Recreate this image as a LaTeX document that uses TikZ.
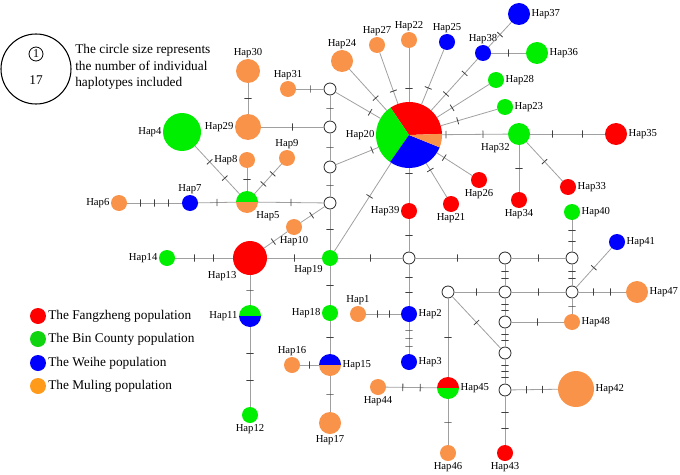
\documentclass[tikz,border=0pt]{standalone}
\usepackage{fontspec}
\setmainfont{Liberation Serif}
\definecolor{fz}{HTML}{FF0000}
\definecolor{bc}{HTML}{00EE00}
\definecolor{wh}{HTML}{0000FF}
\definecolor{ml}{HTML}{F9934A}
\definecolor{lgreen}{HTML}{11D411}
\definecolor{lorange}{HTML}{FF9A1A}
\definecolor{linkgray}{HTML}{A0A0A0}
\newcommand\lnk[3]{\draw[link] (#1) -- (#2) foreach \p in {#3}{node[tk,pos=\p]{}};}
\newcommand\halfnode[7]{%
  \node[hap=#4,label={[lab]#7}] (#1) at (#2,-#3) {};
  \fill[#5] (#1.center) ++(#4,0) arc[start angle=0,end angle=180,radius=#4] -- cycle;
  \fill[#6] (#1.center) ++(-#4,0) arc[start angle=180,end angle=360,radius=#4] -- cycle;}
\begin{document}
\begin{tikzpicture}[x=0.75pt,y=0.75pt,
  hap/.style={circle,inner sep=0pt,outer sep=0pt,minimum size=#1*1.5pt},
  fzn/.style={hap=#1,fill=fz},
  bcn/.style={hap=#1,fill=bc},
  whn/.style={hap=#1,fill=wh},
  mln/.style={hap=#1,fill=ml},
  med/.style={circle,draw=black!85,fill=white,line width=0.6pt,inner sep=0pt,outer sep=0pt,minimum size=9pt},
  lab/.style={font=\fontsize{8}{9}\selectfont,inner sep=1pt},
  link/.style={draw=linkgray,line width=0.6pt},
  tk/.style={rectangle,draw=black!75,line width=0.6pt,inner sep=0pt,outer sep=0pt,minimum width=0pt,minimum height=5.5pt,sloped},
  legtext/.style={font=\fontsize{10}{12.4}\selectfont,inner sep=0pt}]
\useasboundingbox (0,0) rectangle (680,-474);

% size legend
\node[circle,draw=black,line width=0.8pt,minimum size=52.5pt,inner sep=0pt] (bigc) at (36,-69) {};
\node[circle,draw=black,line width=0.6pt,minimum size=10.5pt,inner sep=0pt,font=\fontsize{9}{9}\selectfont] (smc) at (36,-54) {1};
\node[legtext] (n17) at (36,-80) {17};
\node[legtext,anchor=west,align=left] (legtxt) at (75,-67) {The circle size represents\\the number of individual\\haplotypes included};

% population legend
\node[hap=8,fill=fz] (lg1) at (38,-316) {};
\node[hap=8,fill=lgreen] (lg2) at (38,-339) {};
\node[hap=8,fill=wh] (lg3) at (38,-363) {};
\node[hap=8,fill=lorange] (lg4) at (38,-386) {};
\node[legtext,anchor=west] (lt1) at (48,-316) {The Fangzheng population};
\node[legtext,anchor=west] (lt2) at (48,-339) {The Bin County population};
\node[legtext,anchor=west] (lt3) at (48,-363) {The Weihe population};
\node[legtext,anchor=west] (lt4) at (48,-386) {The Muling population};

% haplotype nodes
\node[bcn=19,label={[lab]left:Hap4}] (H4) at (182,-132) {};
\node[mln=13,label={[lab]left:Hap29}] (H29) at (248,-127) {};
\node[mln=12,label={[lab]above:Hap30}] (H30) at (248,-71) {};
\node[mln=8,label={[lab]above:Hap31}] (H31) at (288,-89) {};
\node[med] (W1) at (330,-89) {};
\node[med] (W2) at (330,-127) {};
\node[med] (W3) at (330,-167) {};
\node[med] (W4) at (330,-203) {};
\node[mln=11,label={[lab]above:Hap24}] (H24) at (342,-61) {};
\node[mln=8,label={[lab]above:Hap27}] (H27) at (377,-45) {};
\node[mln=8,label={[lab]above:Hap22}] (H22) at (409,-40) {};
\node[whn=8,label={[lab]above:Hap25}] (H25) at (447,-42) {};
\node[whn=8,label={[lab]above:Hap38}] (H38) at (483,-53) {};
\node[whn=11,label={[lab]right:Hap37}] (H37) at (519,-14) {};
\node[bcn=11,label={[lab]right:Hap36}] (H36) at (537,-53) {};
\node[bcn=8,label={[lab]right:Hap28}] (H28) at (496,-80) {};
\node[bcn=8,label={[lab]right:Hap23}] (H23) at (505,-107) {};
\node[bcn=11,label={[lab]below left:Hap32}] (H32) at (519,-134) {};
\node[fzn=11,label={[lab]right:Hap35}] (H35) at (616,-134) {};
% Hap20 pie
\node[hap=33,label={[lab]left:Hap20}] (H20) at (409,-135) {};
\fill[fz] (H20.center) -- ++(2:33) arc[start angle=2,end angle=124,radius=33] -- cycle;
\fill[bc] (H20.center) -- ++(124:33) arc[start angle=124,end angle=235,radius=33] -- cycle;
\fill[wh] (H20.center) -- ++(235:33) arc[start angle=235,end angle=338,radius=33] -- cycle;
\fill[ml] (H20.center) -- ++(338:33) arc[start angle=338,end angle=362,radius=33] -- cycle;
\node[fzn=8,label={[lab]below:Hap26}] (H26) at (479,-180) {};
\node[fzn=8,label={[lab]below:Hap21}] (H21) at (451,-204) {};
\node[fzn=8,label={[lab]left:Hap39}] (H39) at (409,-211) {};
\node[fzn=8,label={[lab]below:Hap34}] (H34) at (519,-200) {};
\node[fzn=8,label={[lab]right:Hap33}] (H33) at (568,-187) {};
\node[bcn=8,label={[lab]right:Hap40}] (H40) at (572,-212) {};
\node[whn=8,label={[lab]right:Hap41}] (H41) at (617,-242) {};
\node[mln=11,label={[lab]right:Hap47}] (H47) at (637,-292) {};
\node[mln=8,label={[lab]above:Hap9}] (H9) at (287,-158) {};
\node[mln=8,label={[lab]left:Hap8}] (H8) at (247,-160) {};
\halfnode{H5}{247}{202}{11}{bc}{ml}{below right:Hap5}
\node[whn=8,label={[lab]above:Hap7}] (H7) at (190,-203) {};
\node[mln=8,label={[lab]left:Hap6}] (H6) at (119,-203) {};
\node[mln=8,label={[lab]below:Hap10}] (H10) at (294,-227) {};
\node[fzn=17,label={[lab]below left:Hap13}] (H13) at (250,-258) {};
\node[bcn=8,label={[lab]left:Hap14}] (H14) at (167,-258) {};
\node[bcn=8,label={[lab]below left:Hap19}] (H19) at (330,-258) {};
\node[med] (W5) at (409,-258) {};
\node[med] (W6) at (505,-258) {};
\node[med] (W7) at (572,-258) {};
\node[med] (W8) at (448,-292) {};
\node[med] (W9) at (505,-292) {};
\node[med] (W10) at (572,-292) {};
\node[med] (W11) at (505,-322) {};
\node[mln=8,label={[lab]right:Hap48}] (H48) at (572,-322) {};
\node[med] (W12) at (505,-353) {};
\node[med] (W13) at (505,-390) {};
\node[mln=18,label={[lab]right:Hap42}] (H42) at (576,-389) {};
\node[fzn=8,label={[lab]below:Hap43}] (H43) at (505,-453) {};
\halfnode{H45}{448}{388}{11}{fz}{bc}{right:Hap45}
\node[mln=8,label={[lab]below:Hap44}] (H44) at (378,-387) {};
\node[mln=8,label={[lab]below:Hap46}] (H46) at (448,-453) {};
\node[whn=8,label={[lab]right:Hap2}] (H2) at (409,-314) {};
\node[whn=8,label={[lab]right:Hap3}] (H3) at (409,-362) {};
\node[mln=8,label={[lab]above:Hap1}] (H1) at (358,-314) {};
\node[bcn=8,label={[lab]left:Hap18}] (H18) at (330,-313) {};
\halfnode{H15}{330}{365}{11}{wh}{ml}{right:Hap15}
\node[mln=8,label={[lab]above:Hap16}] (H16) at (292,-365) {};
\node[mln=11,label={[lab]below:Hap17}] (H17) at (330,-423) {};
\halfnode{H11}{250}{316}{11}{bc}{wh}{left:Hap11}
\node[bcn=8,label={[lab]below:Hap12}] (H12) at (250,-415) {};

% connectors
\lnk{H31}{W1}{0.5}
\lnk{W1}{W2}{0.5}
\lnk{H20}{W1}{0.23}
\lnk{H29}{W2}{0.5}
\lnk{H30}{H29}{0.5}
\lnk{W2}{W3}{0.5}
\lnk{H20}{W3}{0.15}
\lnk{W3}{W4}{0.5}
\lnk{H5}{W4}{0.5}
\lnk{W4}{H10}{0.55}
\lnk{H10}{H13}{0.6}
\lnk{W4}{H19}{0.5}
\lnk{H20}{H19}{0.38}
\lnk{H13}{H19}{0.5}
\lnk{H19}{W5}{0.5}
\lnk{H19}{H18}{0.5}
\lnk{H18}{H15}{0.5}
\lnk{H15}{H16}{0.5}
\lnk{H15}{H17}{0.5}
\lnk{H13}{H11}{0.5}
\lnk{H11}{H12}{0.33,0.67}
\lnk{H13}{H14}{0.33,0.67}
\lnk{H5}{H7}{0.5}
\lnk{H7}{H6}{0.25,0.5,0.75}
\lnk{H5}{H8}{0.5}
\lnk{H5}{H9}{0.33,0.67}
\lnk{H5}{H4}{0.33,0.67}
\lnk{H20}{H24}{0.3}
\lnk{H20}{H27}{0.25}
\lnk{H20}{H22}{0.26}
\lnk{H20}{H25}{0.3}
\lnk{H20}{H38}{0.32,0.72}
\lnk{H38}{H37}{0.5}
\lnk{H38}{H36}{0.5}
\lnk{H20}{H28}{0.29}
\lnk{H20}{H23}{0.3}
\lnk{H20}{H32}{0.06,0.62}
\lnk{H32}{H35}{0.3,0.7}
\lnk{H32}{H34}{0.5}
\lnk{H32}{H33}{0.5}
\lnk{H20}{H26}{0.21}
\lnk{H20}{H21}{0.2}
\lnk{H20}{H39}{0.14}
\lnk{H39}{W5}{0.5}
\lnk{W5}{H2}{0.33,0.67}
\lnk{H2}{H3}{0.25,0.5,0.75}
\lnk{H1}{H2}{0.33,0.67}
\lnk{W5}{W6}{0.5}
\lnk{W6}{W7}{0.5}
\lnk{W7}{H40}{0.33,0.67}
\lnk{W6}{W9}{0.33,0.67}
\lnk{W7}{W10}{0.33,0.67}
\lnk{W8}{W9}{0.5}
\lnk{W9}{W10}{0.5}
\lnk{W10}{H47}{0.33,0.67}
\lnk{W10}{H41}{0.5}
\lnk{W10}{H48}{0.5}
\lnk{W9}{W11}{0.33,0.67}
\lnk{W11}{H48}{0.5}
\lnk{W11}{W12}{0.33,0.67}
\lnk{W8}{W12}{0.5}
\lnk{W12}{W13}{0.25,0.5,0.75}
\lnk{W13}{H42}{0.33,0.67}
\lnk{W13}{H43}{0.33,0.67}
\lnk{W8}{H45}{0.5}
\lnk{H45}{H44}{0.33,0.67}
\lnk{H45}{H46}{0.5}
\end{tikzpicture}
\end{document}
